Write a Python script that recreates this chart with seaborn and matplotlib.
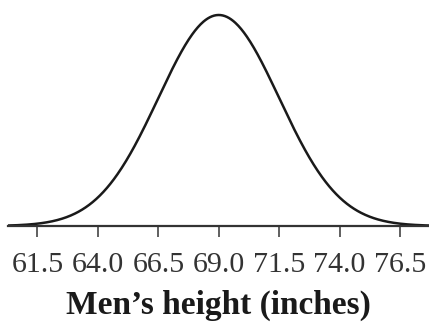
import numpy as np
import pandas as pd
import matplotlib
matplotlib.use("Agg")
import matplotlib.pyplot as plt
import seaborn as sns

# Normal model for men's heights
mean_height = 69.0
sd_height = 2.5
tick_values = [61.5, 64.0, 66.5, 69.0, 71.5, 74.0, 76.5]
tick_labels = ["61.5", "64.0", "66.5", "69.0", "71.5", "74.0", "76.5"]
x_label = "Men\u2019s height (inches)"

sns.set_theme(style="white")
plt.rcParams["font.family"] = ["Liberation Serif", "DejaVu Serif"]

x = np.linspace(60.2, 77.8, 600)
density = np.exp(-0.5 * ((x - mean_height) / sd_height) ** 2) / (sd_height * np.sqrt(2 * np.pi))
df = pd.DataFrame({"height": x, "density": density})

fig = plt.figure(figsize=(4.29, 3.22), dpi=100)
ax = fig.add_axes([8 / 429, 96 / 322, 421 / 429, 221 / 322])

sns.lineplot(data=df, x="height", y="density", ax=ax, color="#1a1a1a", linewidth=1.8)

ax.set_xlim(60.28, 77.7)
ax.set_ylim(0, density.max() * 221 / 211)

for side in ["top", "right", "left"]:
    ax.spines[side].set_visible(False)
ax.spines["bottom"].set_color("#333333")
ax.spines["bottom"].set_linewidth(1.6)

ax.set_yticks([])
ax.set_ylabel("")
ax.set_xticks(tick_values)
ax.set_xticklabels(tick_labels, fontsize=21.5, color="#333333")
ax.tick_params(axis="x", direction="out", length=8, width=1.2, color="#444444", pad=11, bottom=True)
ax.set_xlabel(x_label, fontsize=24, fontweight="bold", color="#1a1a1a", labelpad=8)

fig.savefig("out.png", dpi=100, facecolor="white")
